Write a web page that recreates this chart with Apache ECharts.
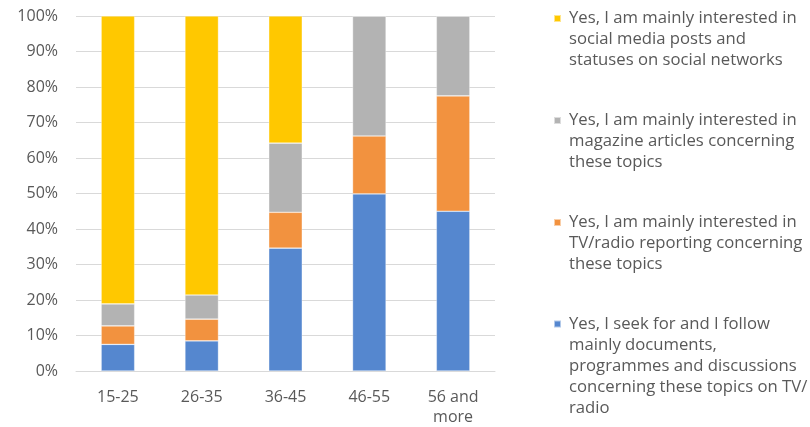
<!DOCTYPE html>
<html>
<head>
<meta charset="utf-8">
<script src="https://cdn.jsdelivr.net/npm/echarts@6/dist/echarts.min.js"></script>
<style>
  html, body { margin: 0; padding: 0; background: #fff; }
  #chart { width: 810px; height: 427px; }
</style>
</head>
<body>
<div id="chart"></div>
<script>
// Age groups on the x axis
const ageGroups = ['15-25', '26-35', '36-45', '46-55', '56 and more'];

// Share of respondents (%) per answer, stacked to 100 within each age group
const followDocumentsTv = [7.5, 8.5, 34.6, 49.9, 45.0];
const tvRadioReporting = [5.2, 6.1, 10.1, 16.3, 32.5];
const magazineArticles = [6.2, 6.8, 19.5, 33.8, 22.5];
const socialMediaPosts = [81.1, 78.6, 35.8, 0, 0];

// Legend texts, wrapped as they are shown
const nameDocs = 'Yes, I seek for and I follow mainly documents, programmes and discussions concerning these topics on TV/radio';
const nameTv = 'Yes, I am mainly interested in TV/radio reporting concerning these topics';
const nameMag = 'Yes, I am mainly interested in magazine articles concerning these topics';
const nameSocial = 'Yes, I am mainly interested in social media posts and statuses on social networks';

const wrapped = {};
wrapped[nameSocial] = ['Yes, I am mainly interested in', 'social media posts and', 'statuses on social networks'];
wrapped[nameMag] = ['Yes, I am mainly interested in', 'magazine articles concerning', 'these topics'];
wrapped[nameTv] = ['Yes, I am mainly interested in', 'TV/radio reporting concerning', 'these topics'];
wrapped[nameDocs] = ['Yes, I seek for and I follow', 'mainly documents,', 'programmes and discussions', 'concerning these topics on TV/', 'radio'];

const colors = {
  docs: '#5587cf',
  tv: '#f2923f',
  mag: '#b3b3b3',
  social: '#ffc800'
};

const FONT = 'Open Sans';
const TEXT = '#595959';
const LINE_H = 21;

// Legend text is vertically centred on its marker; leading empty lines
// move the first written line level with the marker.
function legendText(v) {
  const lines = wrapped[v];
  const blanks = new Array(lines.length - 1).fill('');
  return blanks.concat(lines).join('\n');
}

// One legend block per answer, each placed at its own height
function legendBlock(name, top) {
  return {
    left: 553,
    top: top,
    padding: 0,
    orient: 'vertical',
    itemWidth: 7,
    itemHeight: 7,
    icon: 'rect',
    selectedMode: false,
    data: [name],
    formatter: legendText,
    textStyle: {
      fontFamily: FONT,
      fontSize: 16.7,
      color: TEXT,
      lineHeight: LINE_H,
      padding: [0, 0, 0, 3]
    }
  };
}

function barSeries(name, data, color) {
  return {
    name: name,
    type: 'bar',
    stack: 'total',
    barWidth: '40%',
    data: data,
    itemStyle: {
      color: color,
      borderColor: 'rgba(255,255,255,0.55)',
      borderWidth: 0.6
    },
    emphasis: { disabled: true }
  };
}

const chart = echarts.init(document.getElementById('chart'), null, { renderer: 'canvas' });

chart.setOption({
  animation: false,
  backgroundColor: '#ffffff',
  grid: { left: 76, right: 315, top: 16, bottom: 54, containLabel: false },
  legend: [
    legendBlock(nameSocial, -34),
    legendBlock(nameMag, 68),
    legendBlock(nameTv, 170),
    legendBlock(nameDocs, 229.5)
  ],
  xAxis: {
    type: 'category',
    data: ageGroups,
    axisLine: { show: true, lineStyle: { color: '#d9d9d9', width: 1 } },
    axisTick: { show: false },
    axisLabel: {
      fontFamily: FONT,
      fontSize: 16,
      color: TEXT,
      margin: 16,
      lineHeight: 20,
      formatter: (v) => v.replace(' more', '\nmore')
    }
  },
  yAxis: {
    type: 'value',
    min: 0,
    max: 100,
    interval: 10,
    axisLine: { show: false },
    axisTick: { show: false },
    splitLine: { lineStyle: { color: '#d9d9d9', width: 1 } },
    axisLabel: {
      fontFamily: FONT,
      fontSize: 16,
      color: TEXT,
      margin: 18,
      formatter: '{value}%'
    }
  },
  series: [
    barSeries(nameDocs, followDocumentsTv, colors.docs),
    barSeries(nameTv, tvRadioReporting, colors.tv),
    barSeries(nameMag, magazineArticles, colors.mag),
    barSeries(nameSocial, socialMediaPosts, colors.social)
  ]
});
</script>
</body>
</html>
